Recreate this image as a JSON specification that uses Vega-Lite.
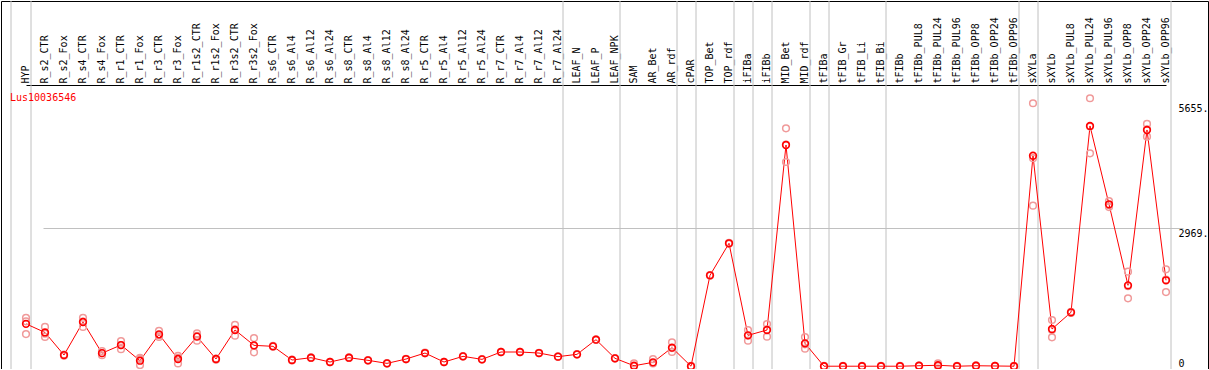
{
  "$schema": "https://vega.github.io/schema/vega-lite/v6.json",
  "autosize": {"type": "none"},
  "padding": {"left": 1, "top": 1, "right": 1, "bottom": 0},
  "width": 1207,
  "height": 368,
  "background": "white",
  "config": {
    "view": {"stroke": "black", "strokeWidth": 1},
    "font": "DejaVu Sans Mono"
  },
  "title": {
    "text": "Lus10036546",
    "anchor": "start",
    "frame": "group",
    "orient": "top",
    "offset": -110,
    "dx": 9,
    "color": "#ff0000",
    "font": "DejaVu Sans Mono",
    "fontSize": 10,
    "fontWeight": "normal",
    "baseline": "alphabetic"
  },
  "datasets": {
    "means": [
      {"sample": "HYP", "value": 910},
      {"sample": "R_s2_CTR", "value": 725},
      {"sample": "R_s2_Fox", "value": 240},
      {"sample": "R_s4_CTR", "value": 950},
      {"sample": "R_s4_Fox", "value": 280},
      {"sample": "R_r1_CTR", "value": 455},
      {"sample": "R_r1_Fox", "value": 118},
      {"sample": "R_r3_CTR", "value": 685},
      {"sample": "R_r3_Fox", "value": 155},
      {"sample": "R_r1s2_CTR", "value": 635},
      {"sample": "R_r1s2_Fox", "value": 155},
      {"sample": "R_r3s2_CTR", "value": 778},
      {"sample": "R_r3s2_Fox", "value": 448},
      {"sample": "R_s6_CTR", "value": 427},
      {"sample": "R_s6_Al4", "value": 133},
      {"sample": "R_s6_Al12", "value": 183},
      {"sample": "R_s6_Al24", "value": 90},
      {"sample": "R_s8_CTR", "value": 183},
      {"sample": "R_s8_Al4", "value": 126},
      {"sample": "R_s8_Al12", "value": 61},
      {"sample": "R_s8_Al24", "value": 154},
      {"sample": "R_r5_CTR", "value": 283},
      {"sample": "R_r5_Al4", "value": 90},
      {"sample": "R_r5_Al12", "value": 212},
      {"sample": "R_r5_Al24", "value": 147},
      {"sample": "R_r7_CTR", "value": 305},
      {"sample": "R_r7_Al4", "value": 305},
      {"sample": "R_r7_Al12", "value": 283},
      {"sample": "R_r7_Al24", "value": 205},
      {"sample": "LEAF_N", "value": 255},
      {"sample": "LEAF_P", "value": 570},
      {"sample": "LEAF_NPK", "value": 169},
      {"sample": "SAM", "value": 10},
      {"sample": "AR_Bet", "value": 83},
      {"sample": "AR_rdf", "value": 398},
      {"sample": "cPAR", "value": 0},
      {"sample": "TOP_Bet", "value": 1953},
      {"sample": "TOP_rdf", "value": 2641},
      {"sample": "iFIBa", "value": 663},
      {"sample": "iFIBb", "value": 778},
      {"sample": "MID_Bet", "value": 4753},
      {"sample": "MID_rdf", "value": 491},
      {"sample": "tFIBa", "value": 0},
      {"sample": "tFIB_Gr", "value": 0},
      {"sample": "tFIB_Li", "value": 0},
      {"sample": "tFIB_Bi", "value": 0},
      {"sample": "tFIBb", "value": 0},
      {"sample": "tFIBb_PUL8", "value": 10},
      {"sample": "tFIBb_PUL24", "value": 20},
      {"sample": "tFIBb_PUL96", "value": 0},
      {"sample": "tFIBb_OPP8", "value": 10},
      {"sample": "tFIBb_OPP24", "value": 5},
      {"sample": "tFIBb_OPP96", "value": 0},
      {"sample": "sXYLa", "value": 4523},
      {"sample": "sXYLb", "value": 799},
      {"sample": "sXYLb_PUL8", "value": 1158},
      {"sample": "sXYLb_PUL24", "value": 5162},
      {"sample": "sXYLb_PUL96", "value": 3479},
      {"sample": "sXYLb_OPP8", "value": 1738},
      {"sample": "sXYLb_OPP24", "value": 5076},
      {"sample": "sXYLb_OPP96", "value": 1846}
    ],
    "reps": [
      {"sample": "HYP", "value": 1040}, {"sample": "HYP", "value": 965}, {"sample": "HYP", "value": 690},
      {"sample": "R_s2_CTR", "value": 845}, {"sample": "R_s2_CTR", "value": 630}, {"sample": "R_s2_CTR", "value": 700},
      {"sample": "R_s2_Fox", "value": 250}, {"sample": "R_s2_Fox", "value": 225},
      {"sample": "R_s4_CTR", "value": 1040}, {"sample": "R_s4_CTR", "value": 845}, {"sample": "R_s4_CTR", "value": 960},
      {"sample": "R_s4_Fox", "value": 325}, {"sample": "R_s4_Fox", "value": 235}, {"sample": "R_s4_Fox", "value": 280},
      {"sample": "R_r1_CTR", "value": 540}, {"sample": "R_r1_CTR", "value": 365}, {"sample": "R_r1_CTR", "value": 455},
      {"sample": "R_r1_Fox", "value": 180}, {"sample": "R_r1_Fox", "value": 25}, {"sample": "R_r1_Fox", "value": 150},
      {"sample": "R_r3_CTR", "value": 760}, {"sample": "R_r3_CTR", "value": 630}, {"sample": "R_r3_CTR", "value": 665},
      {"sample": "R_r3_Fox", "value": 225}, {"sample": "R_r3_Fox", "value": 60}, {"sample": "R_r3_Fox", "value": 180},
      {"sample": "R_r1s2_CTR", "value": 705}, {"sample": "R_r1s2_CTR", "value": 548}, {"sample": "R_r1s2_CTR", "value": 650},
      {"sample": "R_r1s2_Fox", "value": 165}, {"sample": "R_r1s2_Fox", "value": 140},
      {"sample": "R_r3s2_CTR", "value": 890}, {"sample": "R_r3s2_CTR", "value": 655}, {"sample": "R_r3s2_CTR", "value": 790},
      {"sample": "R_r3s2_Fox", "value": 605}, {"sample": "R_r3s2_Fox", "value": 298}, {"sample": "R_r3s2_Fox", "value": 440},
      {"sample": "R_s6_CTR", "value": 435}, {"sample": "R_s6_CTR", "value": 420},
      {"sample": "R_s6_Al4", "value": 140}, {"sample": "R_s6_Al4", "value": 125},
      {"sample": "R_s6_Al12", "value": 190}, {"sample": "R_s6_Al12", "value": 176},
      {"sample": "R_s6_Al24", "value": 95}, {"sample": "R_s6_Al24", "value": 85},
      {"sample": "R_s8_CTR", "value": 190}, {"sample": "R_s8_CTR", "value": 176},
      {"sample": "R_s8_Al4", "value": 132}, {"sample": "R_s8_Al4", "value": 120},
      {"sample": "R_s8_Al12", "value": 66}, {"sample": "R_s8_Al12", "value": 56},
      {"sample": "R_s8_Al24", "value": 160}, {"sample": "R_s8_Al24", "value": 148},
      {"sample": "R_r5_CTR", "value": 290}, {"sample": "R_r5_CTR", "value": 276},
      {"sample": "R_r5_Al4", "value": 95}, {"sample": "R_r5_Al4", "value": 85},
      {"sample": "R_r5_Al12", "value": 218}, {"sample": "R_r5_Al12", "value": 206},
      {"sample": "R_r5_Al24", "value": 152}, {"sample": "R_r5_Al24", "value": 142},
      {"sample": "R_r7_CTR", "value": 310}, {"sample": "R_r7_CTR", "value": 300},
      {"sample": "R_r7_Al4", "value": 310}, {"sample": "R_r7_Al4", "value": 300},
      {"sample": "R_r7_Al12", "value": 288}, {"sample": "R_r7_Al12", "value": 278},
      {"sample": "R_r7_Al24", "value": 210}, {"sample": "R_r7_Al24", "value": 200},
      {"sample": "LEAF_N", "value": 260}, {"sample": "LEAF_N", "value": 250},
      {"sample": "LEAF_P", "value": 575}, {"sample": "LEAF_P", "value": 565},
      {"sample": "LEAF_NPK", "value": 175}, {"sample": "LEAF_NPK", "value": 163},
      {"sample": "SAM", "value": 60}, {"sample": "SAM", "value": 0},
      {"sample": "AR_Bet", "value": 150}, {"sample": "AR_Bet", "value": 60},
      {"sample": "AR_rdf", "value": 513}, {"sample": "AR_rdf", "value": 305}, {"sample": "AR_rdf", "value": 390},
      {"sample": "cPAR", "value": 5}, {"sample": "cPAR", "value": 0},
      {"sample": "TOP_Bet", "value": 1960}, {"sample": "TOP_Bet", "value": 1945},
      {"sample": "TOP_rdf", "value": 2650}, {"sample": "TOP_rdf", "value": 2630},
      {"sample": "iFIBa", "value": 778}, {"sample": "iFIBa", "value": 548}, {"sample": "iFIBa", "value": 660},
      {"sample": "iFIBb", "value": 907}, {"sample": "iFIBb", "value": 634}, {"sample": "iFIBb", "value": 790},
      {"sample": "MID_Bet", "value": 5112}, {"sample": "MID_Bet", "value": 4388}, {"sample": "MID_Bet", "value": 4760},
      {"sample": "MID_rdf", "value": 627}, {"sample": "MID_rdf", "value": 376}, {"sample": "MID_rdf", "value": 470},
      {"sample": "tFIBa", "value": 5}, {"sample": "tFIBa", "value": 0},
      {"sample": "tFIB_Gr", "value": 5}, {"sample": "tFIB_Gr", "value": 0},
      {"sample": "tFIB_Li", "value": 5}, {"sample": "tFIB_Li", "value": 0},
      {"sample": "tFIB_Bi", "value": 5}, {"sample": "tFIB_Bi", "value": 0},
      {"sample": "tFIBb", "value": 5}, {"sample": "tFIBb", "value": 0},
      {"sample": "tFIBb_PUL8", "value": 15}, {"sample": "tFIBb_PUL8", "value": 5},
      {"sample": "tFIBb_PUL24", "value": 60}, {"sample": "tFIBb_PUL24", "value": 0},
      {"sample": "tFIBb_PUL96", "value": 5}, {"sample": "tFIBb_PUL96", "value": 0},
      {"sample": "tFIBb_OPP8", "value": 20}, {"sample": "tFIBb_OPP8", "value": 0},
      {"sample": "tFIBb_OPP24", "value": 10}, {"sample": "tFIBb_OPP24", "value": 0},
      {"sample": "tFIBb_OPP96", "value": 5}, {"sample": "tFIBb_OPP96", "value": 0},
      {"sample": "sXYLa", "value": 5650}, {"sample": "sXYLa", "value": 3449}, {"sample": "sXYLa", "value": 4470},
      {"sample": "sXYLb", "value": 993}, {"sample": "sXYLb", "value": 621}, {"sample": "sXYLb", "value": 780},
      {"sample": "sXYLb_PUL8", "value": 1170}, {"sample": "sXYLb_PUL8", "value": 1145},
      {"sample": "sXYLb_PUL24", "value": 5757}, {"sample": "sXYLb_PUL24", "value": 4575}, {"sample": "sXYLb_PUL24", "value": 5150},
      {"sample": "sXYLb_PUL96", "value": 3550}, {"sample": "sXYLb_PUL96", "value": 3420}, {"sample": "sXYLb_PUL96", "value": 3460},
      {"sample": "sXYLb_OPP8", "value": 2031}, {"sample": "sXYLb_OPP8", "value": 1459}, {"sample": "sXYLb_OPP8", "value": 1720},
      {"sample": "sXYLb_OPP24", "value": 5205}, {"sample": "sXYLb_OPP24", "value": 4932}, {"sample": "sXYLb_OPP24", "value": 5090},
      {"sample": "sXYLb_OPP96", "value": 2082}, {"sample": "sXYLb_OPP96", "value": 1594}, {"sample": "sXYLb_OPP96", "value": 1860}
    ],
    "groupEnds": [
      {"sample": "HYP"}, {"sample": "R_r7_Al24"}, {"sample": "LEAF_NPK"}, {"sample": "AR_rdf"},
      {"sample": "cPAR"}, {"sample": "TOP_rdf"}, {"sample": "iFIBa"}, {"sample": "iFIBb"},
      {"sample": "MID_rdf"}, {"sample": "tFIBa"}, {"sample": "tFIB_Bi"}, {"sample": "tFIBb_OPP96"},
      {"sample": "sXYLa"}, {"sample": "sXYLb_OPP96"}
    ]
  },
  "encoding": {
    "x": {
      "field": "sample",
      "type": "nominal",
      "sort": null,
      "scale": {
        "type": "point",
        "padding": 0,
        "range": [25, 1165],
        "domain": ["HYP","R_s2_CTR","R_s2_Fox","R_s4_CTR","R_s4_Fox","R_r1_CTR","R_r1_Fox","R_r3_CTR","R_r3_Fox","R_r1s2_CTR","R_r1s2_Fox","R_r3s2_CTR","R_r3s2_Fox","R_s6_CTR","R_s6_Al4","R_s6_Al12","R_s6_Al24","R_s8_CTR","R_s8_Al4","R_s8_Al12","R_s8_Al24","R_r5_CTR","R_r5_Al4","R_r5_Al12","R_r5_Al24","R_r7_CTR","R_r7_Al4","R_r7_Al12","R_r7_Al24","LEAF_N","LEAF_P","LEAF_NPK","SAM","AR_Bet","AR_rdf","cPAR","TOP_Bet","TOP_rdf","iFIBa","iFIBb","MID_Bet","MID_rdf","tFIBa","tFIB_Gr","tFIB_Li","tFIB_Bi","tFIBb","tFIBb_PUL8","tFIBb_PUL24","tFIBb_PUL96","tFIBb_OPP8","tFIBb_OPP24","tFIBb_OPP96","sXYLa","sXYLb","sXYLb_PUL8","sXYLb_PUL24","sXYLb_PUL96","sXYLb_OPP8","sXYLb_OPP24","sXYLb_OPP96"]
      },
      "axis": {
        "orient": "top",
        "offset": -84,
        "title": null,
        "labelAngle": -90,
        "labelAlign": "left",
        "labelBaseline": "middle",
        "labelPadding": 2,
        "labelOffset": -1,
        "labelFont": "DejaVu Sans Mono",
        "labelFontSize": 10,
        "labelColor": "black",
        "labelOverlap": false,
        "labelBound": false,
        "ticks": false,
        "grid": false,
        "domainColor": "black",
        "domainWidth": 1
      }
    }
  },
  "layer": [
    {
      "data": {"name": "groupEnds"},
      "mark": {"type": "rule", "color": "#c0c0c0", "strokeWidth": 1, "xOffset": 5},
      "encoding": {}
    },
    {
      "data": {"name": "groupEnds"},
      "transform": [{"filter": "datum.sample == 'HYP'"}],
      "mark": {"type": "rule", "color": "#c0c0c0", "strokeWidth": 1, "xOffset": -15},
      "encoding": {}
    },
    {
      "data": {"name": "means"},
      "mark": {"type": "line", "color": "#ff0000", "strokeWidth": 1},
      "encoding": {
        "y": {
          "field": "value",
          "type": "quantitative",
          "scale": {"domain": [-60, 7847], "nice": false, "zero": false},
          "axis": {
            "orient": "right",
            "offset": -30,
            "title": null,
            "values": [0, 2969, 5655],
            "labelExpr": "datum.value == 0 ? '0' : datum.value + '.'",
            "labelAlign": "left",
            "labelBaseline": {"condition": {"test": "datum.value == 0", "value": "alphabetic"}, "value": "top"},
            "labelPadding": 0,
            "labelFont": "DejaVu Sans Mono",
            "labelFontSize": 10,
            "labelColor": "black",
            "labelFlush": false,
            "labelOverlap": false,
            "ticks": false,
            "domain": false,
            "grid": true,
            "gridColor": "#c0c0c0",
            "gridWidth": 1,
            "gridOpacity": {"condition": {"test": "datum.value == 2969", "value": 1}, "value": 0}
          }
        }
      }
    },
    {
      "data": {"name": "reps"},
      "mark": {"type": "point", "filled": false, "color": "#f09a9a", "strokeWidth": 1.5, "size": 45, "opacity": 1},
      "encoding": {
        "y": {"field": "value", "type": "quantitative"}
      }
    },
    {
      "data": {"name": "means"},
      "mark": {"type": "point", "filled": false, "color": "#ff0000", "strokeWidth": 1.6, "size": 45, "opacity": 1},
      "encoding": {
        "y": {"field": "value", "type": "quantitative"}
      }
    }
  ]
}
